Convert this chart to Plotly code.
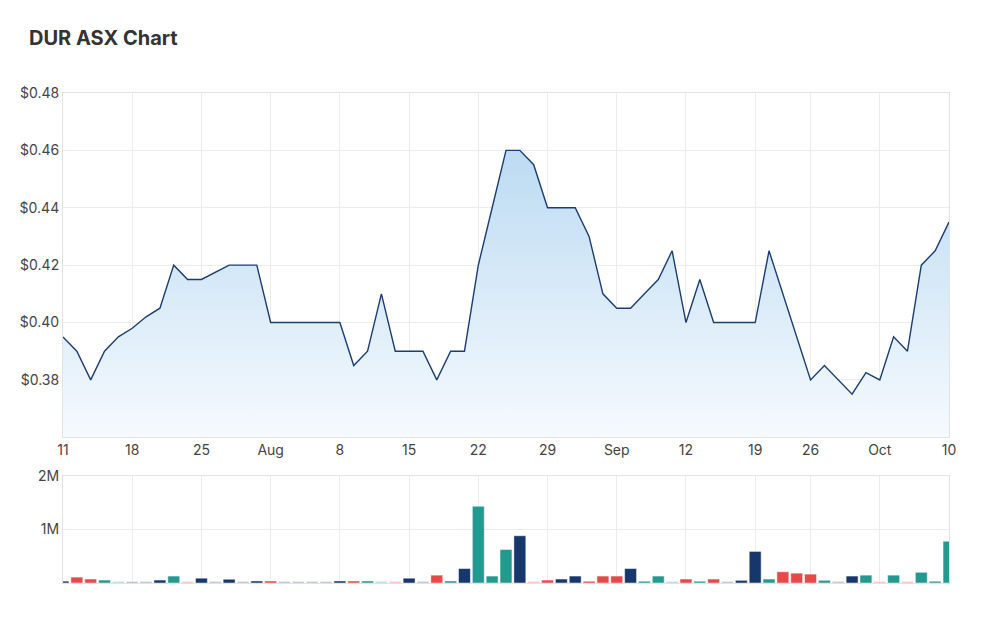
import plotly.graph_objects as go

dates = [
    "2022-07-11", "2022-07-12", "2022-07-13", "2022-07-14", "2022-07-15",
    "2022-07-18", "2022-07-19", "2022-07-20", "2022-07-21", "2022-07-22",
    "2022-07-25", "2022-07-26", "2022-07-27", "2022-07-28", "2022-07-29",
    "2022-08-01", "2022-08-02", "2022-08-03", "2022-08-04", "2022-08-05",
    "2022-08-08", "2022-08-09", "2022-08-10", "2022-08-11", "2022-08-12",
    "2022-08-15", "2022-08-16", "2022-08-17", "2022-08-18", "2022-08-19",
    "2022-08-22", "2022-08-23", "2022-08-24", "2022-08-25", "2022-08-26",
    "2022-08-29", "2022-08-30", "2022-08-31", "2022-09-01", "2022-09-02",
    "2022-09-05", "2022-09-06", "2022-09-07", "2022-09-08", "2022-09-09",
    "2022-09-12", "2022-09-13", "2022-09-14", "2022-09-15", "2022-09-16",
    "2022-09-19", "2022-09-20", "2022-09-21", "2022-09-23",
    "2022-09-26", "2022-09-27", "2022-09-28", "2022-09-29", "2022-09-30",
    "2022-10-03", "2022-10-04", "2022-10-05", "2022-10-06", "2022-10-07",
    "2022-10-10",
]

close = [
    0.395, 0.390, 0.380, 0.390, 0.395,
    0.398, 0.402, 0.405, 0.420, 0.415,
    0.415, 0.4175, 0.420, 0.420, 0.420,
    0.400, 0.400, 0.400, 0.400, 0.400,
    0.400, 0.385, 0.390, 0.410, 0.390,
    0.390, 0.390, 0.380, 0.390, 0.390,
    0.420, 0.440, 0.460, 0.460, 0.455,
    0.440, 0.440, 0.440, 0.430, 0.410,
    0.405, 0.405, 0.410, 0.415, 0.425,
    0.400, 0.415, 0.400, 0.400, 0.400,
    0.400, 0.425, 0.410, 0.395,
    0.380, 0.385, 0.380, 0.375, 0.3825,
    0.380, 0.395, 0.390, 0.420, 0.425,
    0.435,
]

volume = [
    35000, 110000, 74000, 55000, 28000,
    28000, 28000, 55000, 130000, 28000,
    90000, 28000, 70000, 28000, 38000,
    38000, 28000, 28000, 28000, 28000,
    38000, 38000, 38000, 28000, 28000,
    90000, 28000, 147000, 38000, 270000,
    1435000, 130000, 626000, 883000, 28000,
    55000, 74000, 130000, 33000, 130000,
    130000, 270000, 33000, 130000, 28000,
    74000, 33000, 74000, 28000, 50000,
    590000, 74000, 210000, 184000,
    166000, 50000, 28000, 130000, 147000,
    28000, 147000, 28000, 200000, 33000,
    780000,
]

# bar colour key: U = up (teal), D = down (red), F = flat (navy); lower case = faded
bar_kind = [
    "F", "D", "D", "U", "u",
    "f", "f", "F", "U", "d",
    "F", "f", "F", "f", "F",
    "D", "f", "f", "f", "f",
    "F", "D", "U", "u", "d",
    "F", "f", "D", "U", "F",
    "U", "U", "U", "F", "d",
    "D", "F", "F", "D", "D",
    "D", "F", "U", "U", "u",
    "D", "U", "D", "f", "F",
    "F", "U", "D", "D",
    "D", "U", "f", "F", "U",
    "d", "U", "d", "U", "U",
    "U",
]

tick_dates = ["2022-07-11", "2022-07-18", "2022-07-25", "2022-08-01", "2022-08-08",
              "2022-08-15", "2022-08-22", "2022-08-29", "2022-09-05", "2022-09-12",
              "2022-09-19", "2022-09-26", "2022-10-03", "2022-10-10"]
tick_labels = ["11", "18", "25", "Aug", "8", "15", "22", "29", "Sep", "12", "19", "26", "Oct", "10"]

price_ticks = [0.38, 0.40, 0.42, 0.44, 0.46, 0.48]
price_tick_labels = ["$0.38", "$0.40", "$0.42", "$0.44", "$0.46", "$0.48"]
vol_ticks = [1000000, 2000000]
vol_tick_labels = ["1M", "2M"]

palette = {
    "U": "#229a8f", "u": "rgba(34,154,143,0.4)",
    "D": "#e84848", "d": "rgba(232,72,72,0.4)",
    "F": "#15376c", "f": "rgba(21,55,108,0.35)",
}
bar_colors = [palette[k] for k in bar_kind]

fig = go.Figure()

fig.add_trace(go.Scatter(
    x=dates, y=close, mode="lines",
    line=dict(color="#1b3d72", width=1.4),
    fill="tozeroy",
    fillgradient=dict(type="vertical",
                      colorscale=[[0, "rgba(246,250,254,1)"], [1, "rgba(188,219,242,1)"]],
                      start=0.36, stop=0.46),
    xaxis="x", yaxis="y", hoverinfo="skip", showlegend=False,
))

fig.add_trace(go.Bar(
    x=dates, y=volume,
    marker=dict(color=bar_colors, line=dict(color="rgba(255,255,255,0.8)", width=0.6)),
    xaxis="x2", yaxis="y2", showlegend=False,
))

grid = "#ececec"
tickfont = dict(family="Inter, Roboto, sans-serif", size=14, color="#444444")

fig.update_layout(
    width=1000, height=617,
    margin=dict(l=0, r=0, t=0, b=0),
    paper_bgcolor="white", plot_bgcolor="white",
    bargap=0.14,
    xaxis=dict(
        type="category", domain=[0.063, 0.949], anchor="y",
        range=[0, len(dates) - 1],
        tickmode="array", tickvals=tick_dates, ticktext=tick_labels,
        showgrid=True, gridcolor=grid, gridwidth=1,
        ticks="", tickfont=tickfont, automargin=False,
        showline=True, linecolor="#e3e3e3", mirror=True, zeroline=False,
    ),
    yaxis=dict(
        domain=[1 - 437 / 617, 1 - 93 / 617], anchor="x",
        range=[0.3601, 0.48],
        tickmode="array", tickvals=price_ticks, ticktext=price_tick_labels,
        showgrid=True, gridcolor=grid, ticks="",
        tickfont=tickfont, automargin=False,
        showline=True, linecolor="#e3e3e3", mirror=True, zeroline=False,
    ),
    xaxis2=dict(
        type="category", domain=[0.063, 0.949], anchor="y2",
        range=[0, len(dates) - 1],
        tickmode="array", tickvals=tick_dates, ticktext=tick_labels,
        showticklabels=False,
        showgrid=True, gridcolor=grid, ticks="", automargin=False,
        showline=True, linecolor="#e3e3e3", mirror=True, zeroline=False,
    ),
    yaxis2=dict(
        domain=[1 - 583 / 617, 1 - 476 / 617], anchor="x2",
        range=[0, 2000000],
        tickmode="array", tickvals=vol_ticks, ticktext=vol_tick_labels,
        showgrid=True, gridcolor=grid, ticks="",
        tickfont=tickfont, automargin=False,
        showline=True, linecolor="#e3e3e3", mirror=True, zeroline=False,
    ),
    annotations=[dict(
        text="<b>DUR ASX Chart</b>", xref="paper", yref="paper",
        x=0.027, y=1 - 38 / 617, xanchor="left", yanchor="middle",
        showarrow=False,
        font=dict(family="Inter, Roboto, sans-serif", size=20, color="#333333"),
    )],
)

fig.write_html("out.html")
